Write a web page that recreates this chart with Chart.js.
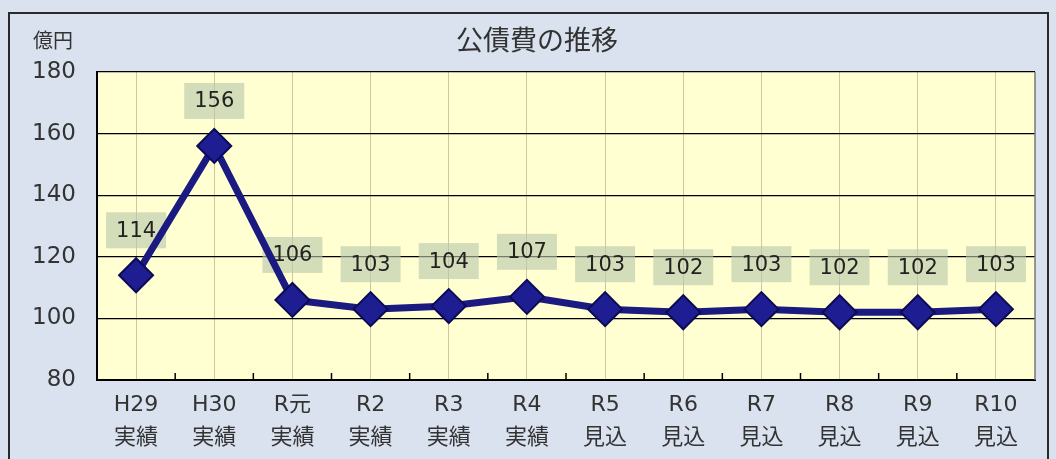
<!DOCTYPE html>
<html>
<head>
<meta charset="utf-8">
<script src="https://cdn.jsdelivr.net/npm/chart.js@4/dist/chart.umd.min.js"></script>
<style>
  html, body { margin: 0; padding: 0; background: #fff; }
  #wrap { width: 1056px; height: 459px; position: relative; }
</style>
</head>
<body>
<div id="wrap"><canvas id="graficoKosaihi" width="1056" height="459"></canvas></div>
<script>
// 公債費の推移（億円）
const nendo = ["H29", "H30", "R元", "R2", "R3", "R4", "R5", "R6", "R7", "R8", "R9", "R10"];
const kubun = ["実績", "実績", "実績", "実績", "実績", "実績", "見込", "見込", "見込", "見込", "見込", "見込"];
const kosaihi = [114, 156, 106, 103, 104, 107, 103, 102, 103, 102, 102, 103];

const yMin = 80;
const yMax = 180;
const yStep = 20;

const fuente = '"Noto Sans CJK JP", "Noto Sans", sans-serif';
const fuenteNum = '"DejaVu Sans", "Noto Sans CJK JP", sans-serif';

const etiquetas = nendo.map((n, i) => [n, kubun[i]]);

// fondo y marco
const fondo = {
  id: "fondo",
  beforeDraw(chart) {
    const ctx = chart.ctx;
    ctx.save();
    ctx.fillStyle = "#D9E2EE";
    ctx.fillRect(0, 0, chart.width, chart.height);
    ctx.strokeStyle = "#2a2a2a";
    ctx.lineWidth = 2;
    ctx.strokeRect(9, 13, 1039, 460);
    const a = chart.chartArea;
    ctx.fillStyle = "#FFFFD2";
    ctx.fillRect(a.left, a.top, a.right - a.left, a.bottom - a.top);
    ctx.restore();
  },
  afterDraw(chart) {
    const ctx = chart.ctx;
    const a = chart.chartArea;
    const x = chart.scales.x;
    ctx.save();
    // borde derecho
    ctx.strokeStyle = "#777";
    ctx.lineWidth = 1.5;
    ctx.beginPath();
    ctx.moveTo(a.right, a.top);
    ctx.lineTo(a.right, a.bottom);
    ctx.stroke();
    // marcas entre categorías
    ctx.strokeStyle = "#000";
    ctx.lineWidth = 1.5;
    const paso = x.getPixelForValue(1) - x.getPixelForValue(0);
    for (let i = 1; i < nendo.length; i++) {
      const px = x.getPixelForValue(i) - paso / 2;
      ctx.beginPath();
      ctx.moveTo(px, a.bottom);
      ctx.lineTo(px, a.bottom - 7);
      ctx.stroke();
    }
    // título y unidad
    ctx.fillStyle = "#333";
    ctx.textAlign = "center";
    ctx.textBaseline = "middle";
    ctx.font = "27px " + fuente;
    ctx.fillText("公債費の推移", 537, 40);
    ctx.font = "20px " + fuente;
    ctx.fillText("億円", 53, 40);
    ctx.restore();
  }
};

// etiquetas de valores (debajo de la línea)
const rotulos = {
  id: "rotulos",
  beforeDatasetsDraw(chart) {
    const ctx = chart.ctx;
    const meta = chart.getDatasetMeta(0);
    ctx.save();
    ctx.font = "21px " + fuenteNum;
    ctx.textAlign = "center";
    ctx.textBaseline = "middle";
    meta.data.forEach((p, i) => {
      const cy = p.y - 45;
      ctx.fillStyle = "rgba(185, 200, 170, 0.62)";
      ctx.fillRect(p.x - 30, cy - 18, 60, 36);
      ctx.fillStyle = "#222";
      ctx.fillText(String(kosaihi[i]), p.x, cy + 1);
    });
    ctx.restore();
  }
};

new Chart(document.getElementById("graficoKosaihi"), {
  type: "line",
  data: {
    labels: etiquetas,
    datasets: [{
      data: kosaihi,
      borderColor: "#1A1A80",
      borderWidth: 7,
      pointStyle: "rectRot",
      pointRadius: 17,
      pointHoverRadius: 17,
      pointBackgroundColor: "#1E1E92",
      pointBorderColor: "#0B0B55",
      pointBorderWidth: 2,
      tension: 0
    }]
  },
  options: {
    responsive: false,
    animation: false,
    layout: { padding: { left: 8, right: 21, top: 72, bottom: 0 } },
    plugins: {
      legend: { display: false },
      title: { display: false },
      tooltip: { enabled: false }
    },
    scales: {
      x: {
        offset: true,
        afterFit: s => { s.height = 79; },
        grid: {
          offset: false,
          color: "#CFC7A4",
          lineWidth: 1,
          drawTicks: false
        },
        border: { color: "#000", width: 2 },
        ticks: {
          color: "#333",
          padding: 9,
          maxRotation: 0,
          autoSkip: false,
          font: { family: fuenteNum, size: 22, lineHeight: 1.5 }
        }
      },
      y: {
        min: yMin,
        max: yMax,
        afterFit: s => { s.width = 89; },
        grid: {
          color: "#000",
          lineWidth: 1.3,
          drawTicks: false
        },
        border: { color: "#000", width: 2 },
        ticks: {
          stepSize: yStep,
          color: "#333",
          padding: 21,
          font: { family: fuenteNum, size: 23 }
        }
      }
    }
  },
  plugins: [fondo, rotulos]
});
</script>
</body>
</html>
